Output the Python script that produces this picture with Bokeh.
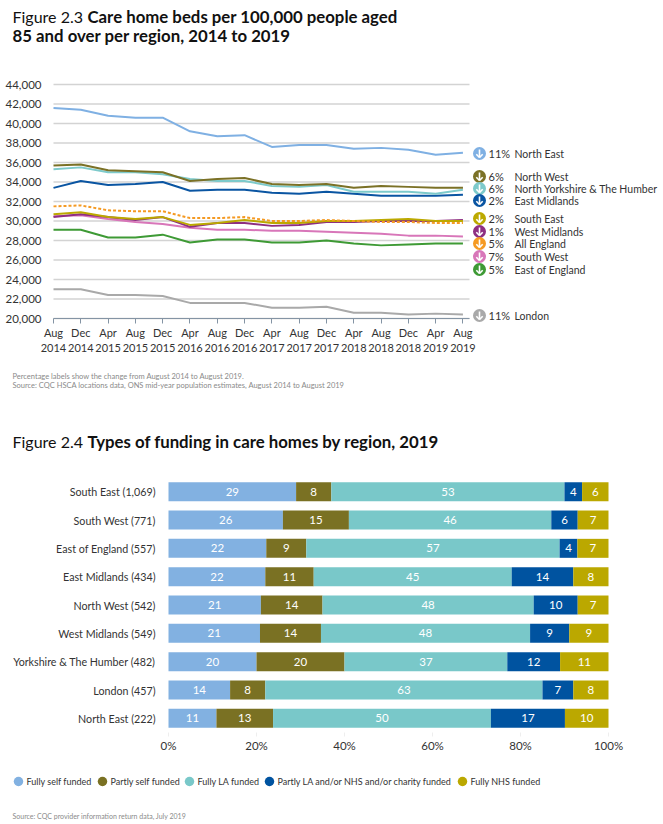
from bokeh.plotting import figure
from bokeh.models import (Range1d, FixedTicker, Label, NumeralTickFormatter, LinearAxis,
                          PrintfTickFormatter, ColumnDataSource, LabelSet)
from bokeh.embed import file_html
from bokeh.resources import INLINE
from bokeh.core.properties import value

# ---------------- Figure 2.3 data ----------------
periods = ["Aug 2014", "Dec 2014", "Apr 2015", "Aug 2015", "Dec 2015", "Apr 2016", "Aug 2016",
           "Dec 2016", "Apr 2017", "Aug 2017", "Dec 2017", "Apr 2018", "Aug 2018", "Dec 2018",
           "Apr 2019", "Aug 2019"]

north_east = [41600, 41400, 40800, 40600, 40600, 39200, 38700, 38800, 37600, 37800, 37800, 37400, 37500, 37300, 36800, 37000]
north_west = [35700, 35800, 35200, 35100, 35000, 34100, 34300, 34400, 33800, 33700, 33800, 33400, 33600, 33500, 33400, 33400]
yorkshire = [35300, 35500, 35000, 35000, 34800, 34300, 34100, 34100, 33600, 33500, 33700, 33000, 33000, 33000, 32800, 33200]
east_midlands = [33400, 34100, 33700, 33800, 34000, 33100, 33200, 33200, 32900, 32800, 33000, 32800, 32600, 32600, 32600, 32700]
south_east = [30700, 30900, 30400, 30200, 30400, 29600, 29800, 30100, 29800, 29800, 30000, 30000, 30100, 30200, 30000, 30000]
west_midlands = [30400, 30700, 30400, 30100, 30400, 29400, 29800, 29800, 29500, 29600, 29900, 29900, 30000, 30000, 30000, 30100]
all_england = [31500, 31600, 31100, 31000, 31000, 30300, 30300, 30400, 30000, 30000, 30100, 30000, 29900, 29900, 29800, 29800]
south_west = [30500, 30600, 30200, 29900, 29700, 29300, 29100, 29100, 29000, 29000, 28900, 28800, 28700, 28500, 28500, 28400]
east_of_england = [29100, 29100, 28300, 28300, 28600, 27800, 28100, 28100, 27800, 27800, 28000, 27700, 27500, 27600, 27700, 27700]
london = [23000, 23000, 22400, 22400, 22300, 21600, 21600, 21600, 21100, 21100, 21200, 20600, 20600, 20400, 20500, 20400]

line_regions = ["North East", "North West", "North Yorkshire & The Humber", "East Midlands",
                "South East", "West Midlands", "All England", "South West", "East of England", "London"]
pct_change = ["11%", "6%", "6%", "2%", "2%", "1%", "5%", "7%", "5%", "11%"]
y_ticks = [20000, 22000, 24000, 26000, 28000, 30000, 32000, 34000, 36000, 38000, 40000, 42000, 44000]

# ---------------- Figure 2.4 data ----------------
funding_regions = ["South East (1,069)", "South West (771)", "East of England (557)",
                   "East Midlands (434)", "North West (542)", "West Midlands (549)",
                   "Yorkshire & The Humber (482)", "London (457)", "North East (222)"]
fully_self = [29, 26, 22, 22, 21, 21, 20, 14, 11]
partly_self = [8, 15, 9, 11, 14, 14, 20, 8, 13]
fully_la = [53, 46, 57, 45, 48, 48, 37, 63, 50]
partly_la_nhs_charity = [4, 6, 4, 14, 10, 9, 12, 7, 17]
fully_nhs = [6, 7, 7, 8, 7, 9, 11, 8, 10]
funding_types = ["Fully self funded", "Partly self funded", "Fully LA funded",
                 "Partly LA and/or NHS and/or charity funded", "Fully NHS funded"]
pct_ticks = [0, 20, 40, 60, 80, 100]

# ---------------- styles / layout ----------------
FONT = "Lato"
TXT = "#333333"
GREY = "#8a8a8a"
TITLE = "#111111"
line_colors = ["#7FB0E3", "#7B7126", "#7DCACB", "#0A55A2", "#BCA900",
               "#8E2F82", "#F59A23", "#D876B9", "#3E9A35", "#A9A9A9"]
legend_row_py = [153, 176, 188, 200, 218, 231, 243, 256, 269, 315]
fund_colors = ["#82B1E1", "#7A7123", "#79C8C9", "#0053A0", "#BBA800"]
W = 660

# ================= Figure 1 (canvas = page y 0..403) =================
H1 = 403
F1_L, F1_R, F1_T, F1_B = 53, 469, 84, 318
XS1 = (0, 15.24)
YS1 = (20000, 44000)
kx1 = (XS1[1] - XS1[0]) / (F1_R - F1_L)
ky1 = (YS1[1] - YS1[0]) / (F1_B - F1_T)


def d1x(px):
    return XS1[0] + (px - F1_L) * kx1


def d1y(py):
    return YS1[0] + (F1_B - py) * ky1


p1 = figure(width=W, height=H1, output_backend="svg", toolbar_location=None,
            x_range=Range1d(d1x(0), d1x(W)), y_range=Range1d(d1y(H1), d1y(0)),
            x_axis_type=None, y_axis_type=None, min_border=0)
p1.outline_line_color = None
p1.grid.visible = False

# horizontal gridlines across the plotting area only
p1.segment(x0=XS1[0], x1=XS1[1], y0=y_ticks, y1=y_ticks, line_color="#D3D3D3", line_width=1.5)

yax = LinearAxis(fixed_location=XS1[0], ticker=FixedTicker(ticks=y_ticks),
                 formatter=NumeralTickFormatter(format="0,0"))
yax.axis_line_color = None
yax.major_tick_line_color = None
yax.minor_tick_line_color = None
yax.major_label_text_font = FONT
yax.major_label_text_font_size = "11.5px"
yax.major_label_text_color = TXT
yax.major_label_standoff = 6
p1.add_layout(yax, "left")

xs = list(range(len(periods)))
xax = LinearAxis(fixed_location=YS1[0], ticker=FixedTicker(ticks=xs), bounds=XS1)
xax.major_label_overrides = {i: lab.replace(" ", "\n") for i, lab in enumerate(periods)}
xax.axis_line_color = "#8494A4"
xax.major_tick_line_color = "#8494A4"
xax.major_tick_in = 0
xax.major_tick_out = 5
xax.minor_tick_line_color = None
xax.major_label_text_font = FONT
xax.major_label_text_font_size = "11px"
xax.major_label_text_color = TXT
xax.major_label_standoff = 2
p1.add_layout(xax, "below")

series = [north_east, north_west, yorkshire, east_midlands, south_east,
          west_midlands, all_england, south_west, east_of_england, london]
order = [9, 8, 7, 0, 3, 2, 1, 5, 4, 6]
for i in order:
    kw = {}
    if line_regions[i] == "All England":
        kw["line_dash"] = "3 2"
    p1.line(xs, series[i], line_color=line_colors[i], line_width=2, **kw)


def lab1(px, py, text, size, color=TXT, style="normal", font=FONT, align="left"):
    p1.add_layout(Label(x=d1x(px), y=d1y(py), text=text, text_font=font,
                        text_font_size=size, text_font_style=style, text_color=color,
                        text_align=align, text_baseline="middle"))


# direct labels: coloured circle with a white down arrow, % change and region name
ICON_X = 479
icon_y = [d1y(py) for py in legend_row_py]
p1.scatter(x=[d1x(ICON_X)] * len(icon_y), y=icon_y, marker="circle", size=13,
           fill_color=line_colors, line_color=None)
p1.segment(x0=[d1x(ICON_X)] * len(icon_y), x1=[d1x(ICON_X)] * len(icon_y),
           y0=[d1y(py - 4) for py in legend_row_py], y1=[d1y(py + 4) for py in legend_row_py],
           line_color="white", line_width=1.6)
for side in (-1, 1):
    p1.segment(x0=[d1x(ICON_X + side * 3.2)] * len(icon_y), x1=[d1x(ICON_X)] * len(icon_y),
               y0=[d1y(py + 0.8) for py in legend_row_py], y1=[d1y(py + 4) for py in legend_row_py],
               line_color="white", line_width=1.6)
for i, name in enumerate(line_regions):
    py = legend_row_py[i]
    lab1(488, py, pct_change[i], "11px")
    lab1(514, py, name, "10.5px")

lab1(12, 16, "Figure 2.3", "16px", color=TITLE)
lab1(87, 16, "Care home beds per 100,000 people aged", "16.8px", color=TITLE, style="bold")
lab1(12, 35, "85 and over per region, 2014 to 2019", "16.8px", color=TITLE, style="bold")
lab1(12, 376, "Percentage labels show the change from August 2014 to August 2019.", "7.5px", color=GREY)
lab1(12, 385, "Source: CQC HSCA locations data, ONS mid-year population estimates, August 2014 to August 2019",
     "7.5px", color=GREY)

# ================= Figure 2 (canvas = page y 403..821) =================
TOP2 = 403
H2 = 418
F2_L, F2_R, F2_T, F2_B = 168, 608, 477, 732
n_reg = len(funding_regions)
kx2 = 100 / (F2_R - F2_L)
ky2 = n_reg / (F2_B - F2_T)


def d2x(px):
    return (px - F2_L) * kx2


def d2y(py):
    return (F2_B - py) * ky2


raw = [fully_self, partly_self, fully_la, partly_la_nhs_charity, fully_nhs]
totals = [sum(col[r] for col in raw) for r in range(n_reg)]
keys = ["k0", "k1", "k2", "k3", "k4"]
row_pos = [n_reg - r - 0.5 for r in range(n_reg)]
data = {"row": row_pos}
for k, col in zip(keys, raw):
    data[k] = [v / t * 100 for v, t in zip(col, totals)]
src = ColumnDataSource(data)

p2 = figure(width=W, height=H2, output_backend="svg", toolbar_location=None,
            x_range=Range1d(d2x(0), d2x(W)), y_range=Range1d(d2y(TOP2 + H2), d2y(TOP2)),
            x_axis_type=None, y_axis_type=None, min_border=0)
p2.outline_line_color = None
p2.grid.visible = False
p2.hbar_stack(keys, y="row", height=0.67, source=src, color=fund_colors, line_color=None)

lab_x, lab_y, lab_t = [], [], []
for r in range(n_reg):
    cum = 0
    for k, col in zip(keys, raw):
        w = data[k][r]
        lab_x.append(cum + w / 2)
        lab_y.append(row_pos[r])
        lab_t.append(str(col[r]))
        cum += w
p2.add_layout(LabelSet(x="x", y="y", text="t",
                       source=ColumnDataSource(dict(x=lab_x, y=lab_y, t=lab_t)),
                       text_color="white", text_font=value(FONT), text_font_size="11.5px",
                       text_align="center", text_baseline="middle"))

xax2 = LinearAxis(fixed_location=0, ticker=FixedTicker(ticks=pct_ticks),
                  formatter=PrintfTickFormatter(format="%d%%"))
xax2.axis_line_color = None
xax2.major_tick_line_color = "#EEEEEE"
xax2.major_tick_in = 0
xax2.major_tick_out = 4
xax2.minor_tick_line_color = None
xax2.major_label_standoff = 2
xax2.major_label_text_font = FONT
xax2.major_label_text_font_size = "11.5px"
xax2.major_label_text_color = TXT
p2.add_layout(xax2, "below")

yax2 = LinearAxis(fixed_location=0, ticker=FixedTicker(ticks=row_pos))
yax2.major_label_overrides = {row_pos[r]: funding_regions[r] for r in range(n_reg)}
yax2.axis_line_color = None
yax2.major_tick_line_color = None
yax2.minor_tick_line_color = None
yax2.major_label_standoff = 7
yax2.major_label_text_font = FONT
yax2.major_label_text_font_size = "10.7px"
yax2.major_label_text_color = TXT
p2.add_layout(yax2, "left")


def lab2(px, py, text, size, color=TXT, style="normal", font=FONT, align="left"):
    p2.add_layout(Label(x=d2x(px), y=d2y(py), text=text, text_font=font,
                        text_font_size=size, text_font_style=style, text_color=color,
                        text_align=align, text_baseline="middle"))


lab2(12, 441, "Figure 2.4", "16px", color=TITLE)
lab2(87, 441, "Types of funding in care homes by region, 2019", "16.8px", color=TITLE, style="bold")

# legend
leg_circle_px = [18, 102, 189, 269, 462]
LEG_Y = 781
p2.scatter(x=[d2x(cx) for cx in leg_circle_px], y=[d2y(LEG_Y)] * len(leg_circle_px),
           marker="circle", size=9.5, fill_color=fund_colors, line_color=None)
for i, name in enumerate(funding_types):
    lab2(leg_circle_px[i] + 8, LEG_Y, name, "9px")
lab2(12, 815, "Source: CQC provider information return data, July 2019", "7px", color=GREY)

open("out.html", "w").write(file_html([p1, p2], INLINE))
